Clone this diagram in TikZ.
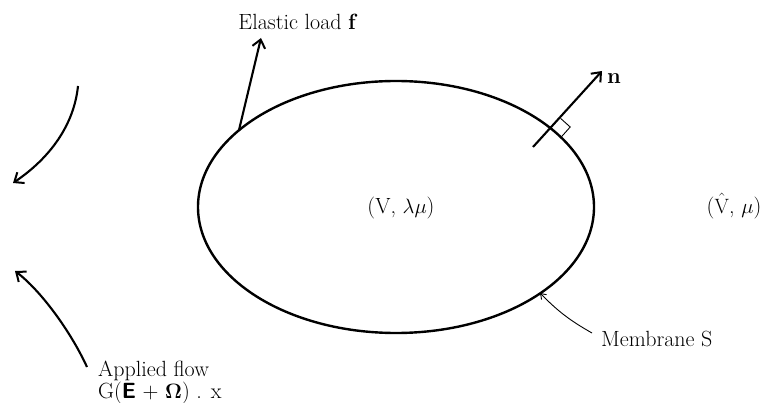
\documentclass[tikz,border=0pt]{standalone}
\usetikzlibrary{arrows.meta,calc}
\begin{document}
\begin{tikzpicture}[x=1pt,y=-1pt,
  lbl/.style={inner sep=0pt, font=\fontsize{22}{22}\selectfont},
  bigarrow/.style={line width=2.1pt, -{Straight Barb[length=8pt,width=13pt,line width=2pt]}},
  thinarrow/.style={line width=0.9pt, -{Straight Barb[length=5pt,width=7pt,line width=0.9pt]}},
  memb/.style={line width=2.4pt}]
\useasboundingbox (0,0) rectangle (765,403);
% membrane
\draw[memb] (396,207) ellipse [x radius=198pt, y radius=126pt];
% points on the membrane
\coordinate (base) at (239,130);
\coordinate (P) at (552,128);
\coordinate (mtip) at (540,293);
% elastic load
\coordinate (ftip) at (261,38);
\node[lbl] (flabel) at (298,22) {Elastic load \textbf{f}};
\draw[bigarrow] (base) -- (ftip);
% normal
\coordinate (nstart) at (533,147);
\coordinate (ntip) at (602,71);
\draw[bigarrow] (nstart) -- (ntip);
\node[lbl] (nlabel) at (614,79) {\textbf{n}};
\draw[line width=0.9pt] ($(P)+(8.6,-9.6)$) -- ++(9.6,8.6) -- ++(-8.6,9.6);
% region labels
\node[lbl] (V) at (401,208) {(V, $\lambda\mu$)};
\node[lbl] (Vh) at (734,206) {($\hat{\mathrm{V}}$, $\mu$)};
% membrane label
\node[lbl, anchor=west] (mlabel) at (601,339) {Membrane S};
\coordinate (mtail) at (592,333);
\draw[thinarrow] (mtail) to[bend left=8] (mtip);
% applied flow
\coordinate (a1s) at (78,86);
\coordinate (a1e) at (13,183);
\draw[bigarrow] (a1s) .. controls (74,125) and (50,158) .. (a1e);
\coordinate (a2s) at (87,367);
\coordinate (a2e) at (15,271);
\draw[bigarrow] (a2s) .. controls (70,330) and (40,290) .. (a2e);
\node[lbl, anchor=north west, align=left] (flow) at (98,361)
  {Applied flow\\G(\textsf{\textbf{E}} + $\mathbf{\Omega}$) . x};
\end{tikzpicture}
\end{document}
